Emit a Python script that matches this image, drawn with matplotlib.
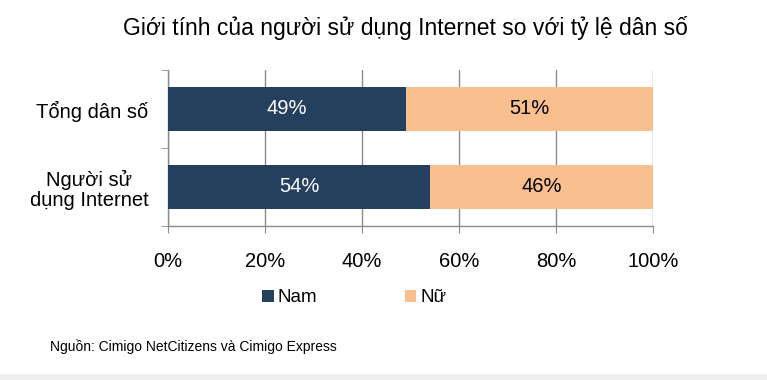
import matplotlib
matplotlib.use("Agg")
import matplotlib.pyplot as plt
from matplotlib.patches import Rectangle

plt.rcParams["font.family"] = ["Liberation Sans", "DejaVu Sans"]

# data
categories = ["Tổng dân số", "Người sử\ndụng Internet"]
nam = [49, 54]
nu = [51, 46]
series_names = ["Nam", "Nữ"]
xticks = [0, 20, 40, 60, 80, 100]

navy = "#253F5F"
peach = "#F9BF8F"
grid_gray = "#8C8C8C"

fig = plt.figure(figsize=(7.67, 3.80), dpi=100)
ax = fig.add_axes([168 / 767, 1 - 226 / 380, 485 / 767, 156 / 380])

ypos = list(range(len(categories)))
bar_h = 0.57
b1 = ax.barh(ypos, nam, height=bar_h, color=navy, label=series_names[0], zorder=3)
b2 = ax.barh(ypos, nu, left=nam, height=bar_h, color=peach, label=series_names[1], zorder=3)

for y, a, b in zip(ypos, nam, nu):
    ax.text(a / 2, y, f"{a}%", ha="center", va="center", color="white", fontsize=14.5, zorder=4)
    ax.text(a + b / 2, y, f"{b}%", ha="center", va="center", color="black", fontsize=14.5, zorder=4)

ax.set_xlim(0, 100)
ax.set_ylim(len(categories) - 0.5, -0.5)
ax.set_xticks(xticks)
ax.set_xticklabels([f"{t}%" for t in xticks], fontsize=14.5)
ax.tick_params(axis="x", length=5, color=grid_gray, pad=14)

ax.set_yticks(ypos)
ax.set_yticklabels(categories, fontsize=14.5, linespacing=1.1, multialignment="center")
ax.tick_params(axis="y", which="major", length=0, pad=14)
ax.set_yticks([-0.5, 0.5, 1.5], minor=True)
ax.tick_params(axis="y", which="minor", length=5, color=grid_gray)

ax.grid(axis="x", color=grid_gray, linewidth=1, zorder=0)
for side in ["top", "right"]:
    ax.spines[side].set_visible(False)
for side in ["left", "bottom"]:
    ax.spines[side].set_color(grid_gray)
    ax.spines[side].set_linewidth(1)

fig.suptitle("Giới tính của người sử dụng Internet so với tỷ lệ dân số",
             x=0.528, y=1 - 28 / 380, va="center", fontsize=16.5)

fig.legend(handles=[b1, b2], loc="center", bbox_to_anchor=(0.462, 1 - 298 / 380),
           ncol=2, frameon=False, fontsize=13.5, handlelength=0.6, handleheight=0.6,
           handletextpad=0.2, columnspacing=4.7)

fig.text(50 / 767, 1 - 347 / 380, "Nguồn: Cimigo NetCitizens và Cimigo Express",
         fontsize=10, va="center", ha="left")

fig.patches.append(Rectangle((0, 0), 1, 6 / 380, transform=fig.transFigure,
                             facecolor="#EFEFEF", edgecolor="none", zorder=0))

fig.savefig("out.png", dpi=100)
